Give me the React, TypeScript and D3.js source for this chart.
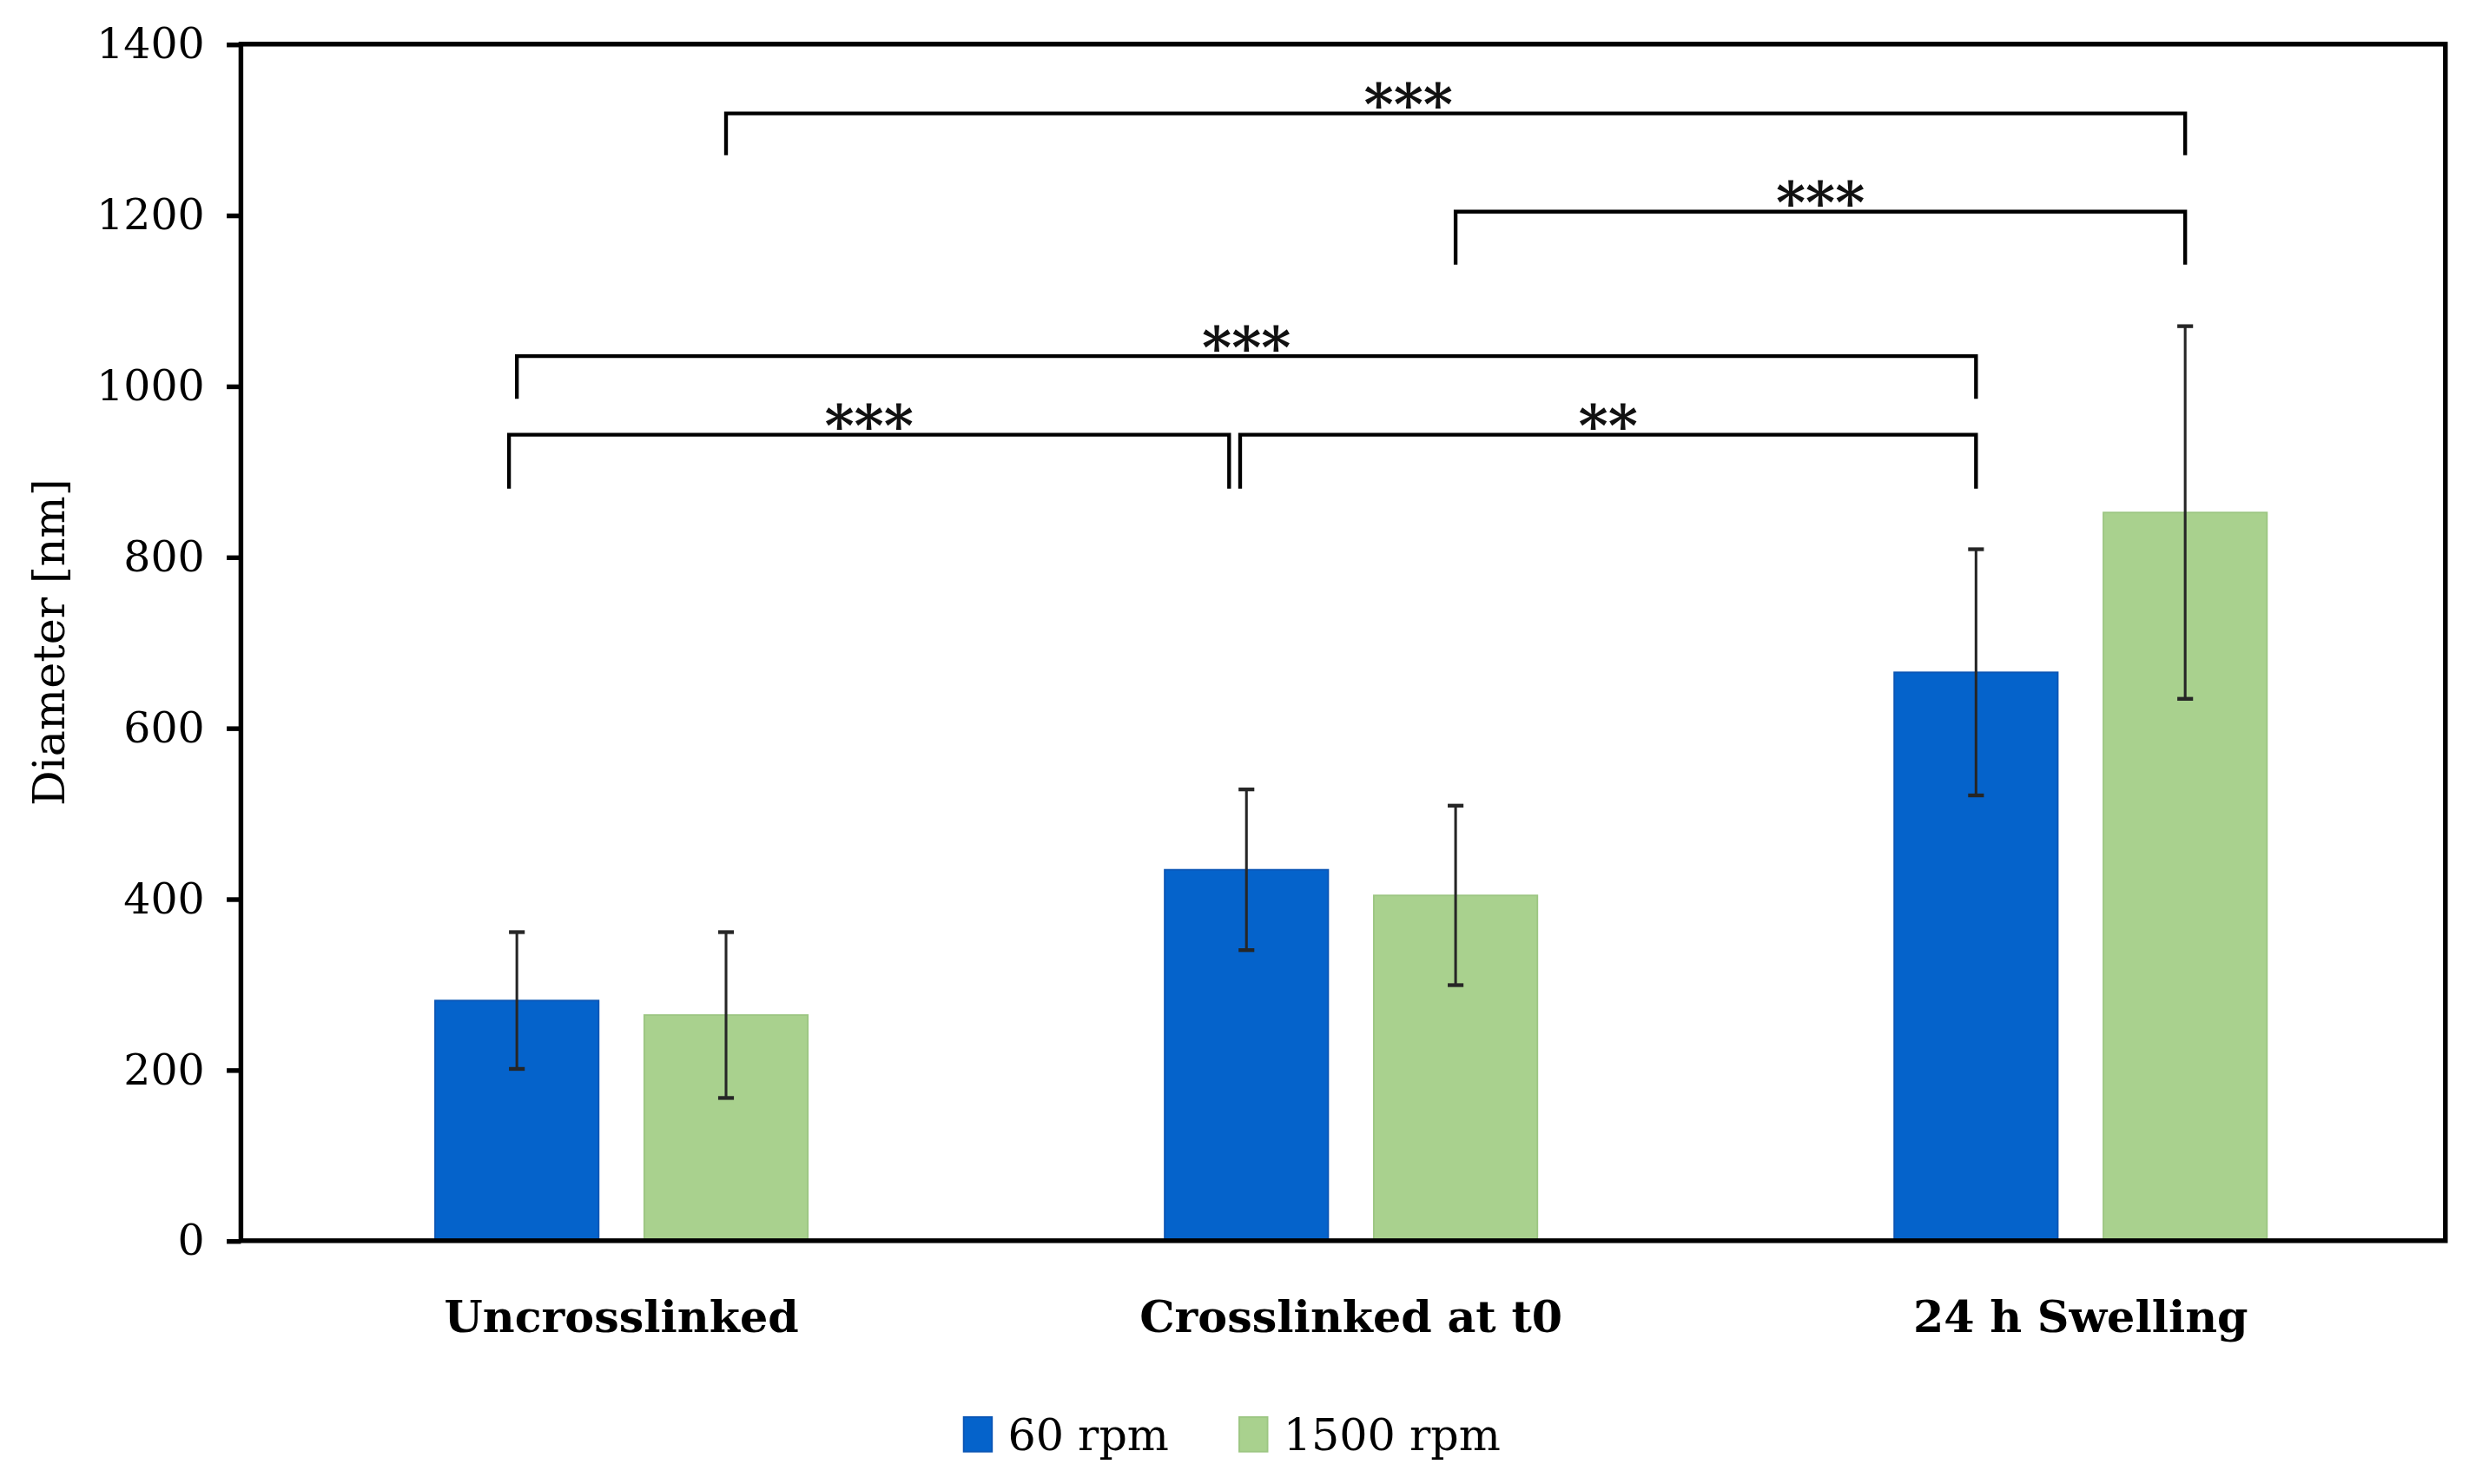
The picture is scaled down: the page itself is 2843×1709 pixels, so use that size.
import React, { useRef, useEffect } from "react";
import * as d3 from "d3";

// chart data
const categories = ["Uncrosslinked", "Crosslinked at t0", "24 h Swelling"];
const seriesNames = ["60 rpm", "1500 rpm"];
const mean60 = [281, 434, 665];
const err60 = [80, 94, 144];
const mean1500 = [264, 404, 852];
const err1500 = [97, 105, 218];
const yTicks = [0, 200, 400, 600, 800, 1000, 1200, 1400];

// significance brackets: [fromCategory, fromSeries, toCategory, toSeries, barValue, legValue, label]
const brackets: [number, number, number, number, number, number, string][] = [
  [0, 1, 2, 1, 1319, 1270, "***"],
  [1, 1, 2, 1, 1204, 1142, "***"],
  [0, 0, 2, 0, 1035, 985, "***"],
  [0, 0, 1, 0, 943, 880, "***"],
  [1, 0, 2, 0, 943, 880, "**"],
];

const colors = ["#0563CB", "#A9D18E"];
const strokes = ["#0A55B5", "#9CC682"];

const W = 1568,
  H = 942.5;
const FONT = "'DejaVu Serif', 'Liberation Serif', serif";

const App: React.FC = () => {
  const ref = useRef<SVGSVGElement>(null);

  useEffect(() => {
    const svg = d3.select(ref.current);
    svg.selectAll("*").remove();

    const margin = { top: 28, right: 15, bottom: 154.5, left: 153 };
    const plotLeft = margin.left;
    const plotRight = W - margin.right;
    const plotTop = margin.top;
    const plotBottom = H - margin.bottom;

    const y = d3.scaleLinear().domain([0, 1400]).range([plotBottom, plotTop]);

    const x = d3
      .scaleBand<string>()
      .domain(categories)
      .range([plotLeft + 10, plotRight])
      .paddingInner(0)
      .paddingOuter(0);

    const xs = d3
      .scaleBand<string>()
      .domain(seriesNames)
      .range([0, x.bandwidth()])
      .paddingInner(0.218)
      .paddingOuter(0.853);

    const means = [mean60, mean1500];
    const errs = [err60, err1500];

    const rows = categories.flatMap((c, ci) =>
      seriesNames.map((s, si) => ({
        c,
        s,
        si,
        v: means[si][ci],
        e: errs[si][ci],
      }))
    );

    const cx = (ci: number, si: number) =>
      x(categories[ci])! + xs(seriesNames[si])! + xs.bandwidth() / 2;

    // bars
    svg
      .append("g")
      .selectAll("rect")
      .data(rows)
      .enter()
      .append("rect")
      .attr("x", (d) => x(d.c)! + xs(d.s)!)
      .attr("y", (d) => y(d.v))
      .attr("width", xs.bandwidth())
      .attr("height", (d) => y(0) - y(d.v))
      .attr("fill", (d) => colors[d.si])
      .attr("stroke", (d) => strokes[d.si])
      .attr("stroke-width", 1);

    // error bars
    const eb = svg.append("g").attr("stroke", "#262626").attr("stroke-width", 1.7);
    rows.forEach((d) => {
      const xc = x(d.c)! + xs(d.s)! + xs.bandwidth() / 2;
      eb.append("line")
        .attr("x1", xc)
        .attr("x2", xc)
        .attr("y1", y(d.v + d.e))
        .attr("y2", y(d.v - d.e));
      [d.v + d.e, d.v - d.e].forEach((v) =>
        eb
          .append("line")
          .attr("x1", xc - 5)
          .attr("x2", xc + 5)
          .attr("y1", y(v))
          .attr("y2", y(v))
          .attr("stroke-width", 2.4)
      );
    });

    // y axis ticks and labels
    const yAxis = svg
      .append("g")
      .attr("transform", `translate(${plotLeft},0)`)
      .call(
        d3
          .axisLeft(y)
          .tickValues(yTicks)
          .tickFormat(d3.format("d"))
          .tickSize(9)
          .tickSizeOuter(0)
          .tickPadding(14)
      );
    yAxis.select(".domain").remove();
    yAxis.selectAll("line").attr("stroke", "#000").attr("stroke-width", 3);
    yAxis
      .selectAll("text")
      .attr("fill", "#000")
      .style("font-family", FONT)
      .style("font-size", "27px");

    // plot frame
    svg
      .append("rect")
      .attr("x", plotLeft)
      .attr("y", plotTop)
      .attr("width", plotRight - plotLeft)
      .attr("height", plotBottom - plotTop)
      .attr("fill", "none")
      .attr("stroke", "#000")
      .attr("stroke-width", 3);

    // category labels
    svg
      .append("g")
      .selectAll("text")
      .data(categories)
      .enter()
      .append("text")
      .attr("x", (d) => x(d)! + x.bandwidth() / 2)
      .attr("y", plotBottom + 58)
      .attr("text-anchor", "middle")
      .style("font-family", FONT)
      .style("font-weight", "bold")
      .style("font-size", "28px")
      .attr("fill", "#000")
      .text((d) => d);

    // significance brackets
    const bg = svg.append("g");
    brackets.forEach(([c0, s0, c1, s1, top, leg, label], i) => {
      let x0 = cx(c0, s0);
      let x1 = cx(c1, s1);
      // nudge brackets that meet at the same bar
      if (i === 3) {
        x0 -= 5;
        x1 -= 11;
      }
      if (i === 4) x0 -= 4;
      const path = d3.path();
      path.moveTo(x0, y(leg));
      path.lineTo(x0, y(top));
      path.lineTo(x1, y(top));
      path.lineTo(x1, y(leg));
      bg.append("path")
        .attr("d", path.toString())
        .attr("fill", "none")
        .attr("stroke", "#000")
        .attr("stroke-width", 2.4);
      bg.append("text")
        .attr("x", (x0 + x1) / 2 - (i === 0 ? 30 : 0))
        .attr("y", y(top) + 7)
        .attr("text-anchor", "middle")
        .style("font-family", FONT)
        .style("font-size", "36px")
        .style("font-weight", "bold")
        .attr("fill", "#111")
        .text(label);
    });

    // y axis title
    svg
      .append("text")
      .attr("transform", `translate(41,${(plotTop + plotBottom) / 2}) rotate(-90)`)
      .attr("text-anchor", "middle")
      .style("font-family", FONT)
      .style("font-size", "28px")
      .attr("fill", "#000")
      .text("Diameter [nm]");

    // legend
    const legend = svg
      .append("g")
      .attr("transform", `translate(${W / 2 - 172},${plotBottom + 112})`);
    const offsets = [0, 175];
    seriesNames.forEach((s, i) => {
      const g = legend.append("g").attr("transform", `translate(${offsets[i]},0)`);
      g.append("rect")
        .attr("x", 0)
        .attr("y", 0)
        .attr("width", 18)
        .attr("height", 22)
        .attr("fill", colors[i])
        .attr("stroke", strokes[i]);
      g.append("text")
        .attr("x", 28)
        .attr("y", 21)
        .style("font-family", FONT)
        .style("font-size", "28px")
        .attr("fill", "#000")
        .text(s);
    });
  }, []);

  return (
    <div style={{ position: "absolute", top: 0, left: 0, background: "#fff" }}>
      <svg
        ref={ref}
        width={2843}
        height={1709}
        viewBox={`0 0 ${W} ${H}`}
        style={{ display: "block" }}
      />
    </div>
  );
};

export default App;
